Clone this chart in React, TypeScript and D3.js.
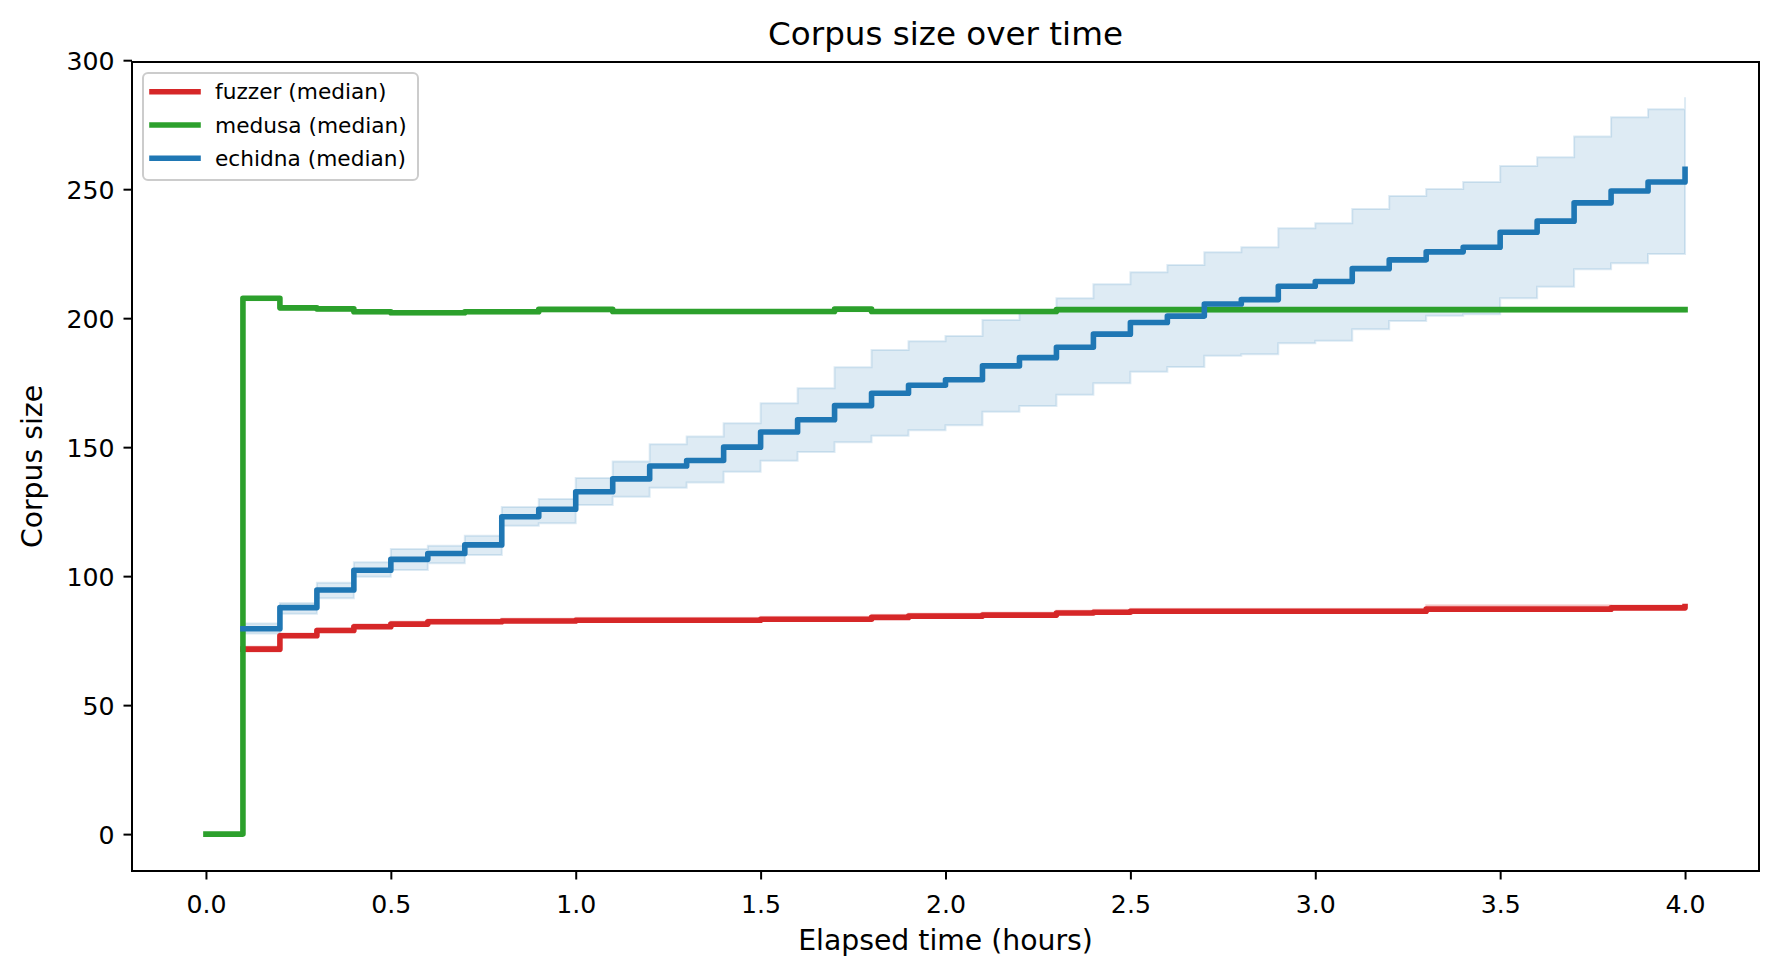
import React, { useEffect, useRef } from 'react';
import * as d3 from 'd3';

// sample times (hours)
const hours = [
  0.0, 0.1, 0.2, 0.3, 0.4, 0.5, 0.6, 0.7, 0.8, 0.9, 1.0,
  1.1, 1.2, 1.3, 1.4, 1.5, 1.6, 1.7, 1.8, 1.9, 2.0,
  2.1, 2.2, 2.3, 2.4, 2.5, 2.6, 2.7, 2.8, 2.9, 3.0,
  3.1, 3.2, 3.3, 3.4, 3.5, 3.6, 3.7, 3.8, 3.9, 4.0,
];

// fuzzer and echidna start at 0.1
const fuzzerMedian = [
  71.7, 76.9, 78.9, 80.4, 81.4, 82.3, 82.3, 82.6, 82.6, 82.9,
  82.9, 82.9, 82.9, 82.9, 83.3, 83.3, 83.3, 84.0, 84.5, 84.5,
  84.9, 84.9, 85.7, 86.0, 86.4, 86.4, 86.4, 86.4, 86.4, 86.4,
  86.4, 86.4, 87.2, 87.2, 87.2, 87.2, 87.2, 87.7, 87.7, 88.2,
];
const fuzzerUpper = [
  72.7, 77.9, 79.9, 81.4, 82.4, 83.3, 83.3, 83.6, 83.6, 83.9,
  83.9, 83.9, 83.9, 83.9, 84.3, 84.3, 84.3, 85.0, 85.5, 85.5,
  85.9, 85.9, 86.7, 87.0, 87.4, 87.4, 87.4, 87.4, 87.4, 87.4,
  87.4, 87.4, 88.8, 88.8, 88.8, 88.8, 88.8, 88.7, 88.7, 89.2,
];
const fuzzerLower = [
  70.7, 76.3, 78.3, 79.8, 80.8, 81.7, 81.7, 82.0, 82.0, 82.3,
  82.3, 82.3, 82.3, 82.3, 82.7, 82.7, 82.7, 83.4, 83.9, 83.9,
  84.3, 84.3, 85.1, 85.4, 85.8, 85.8, 85.8, 85.8, 85.8, 85.8,
  85.8, 85.8, 86.6, 86.6, 86.6, 86.6, 86.6, 87.1, 87.1, 87.6,
];

// medusa starts at 0.0
const medusaMedian = [
  0, 207.7, 204.0, 203.6, 202.5, 202.1, 202.1, 202.5, 202.5, 203.4, 203.4,
  202.6, 202.6, 202.6, 202.6, 202.6, 202.6, 203.5, 202.6, 202.6, 202.6,
  202.6, 202.6, 203.3, 203.3, 203.3, 203.3, 203.3, 203.3, 203.3, 203.3,
  203.3, 203.3, 203.3, 203.3, 203.3, 203.3, 203.3, 203.3, 203.3, 203.3,
];
const medusaUpper = [
  0, 208.1, 204.4, 204.0, 202.9, 202.5, 202.5, 202.9, 203.2, 203.8, 203.8,
  203.0, 203.0, 203.0, 203.0, 203.0, 203.0, 203.9, 203.0, 203.0, 203.0,
  203.0, 203.0, 203.7, 203.7, 203.7, 203.7, 203.7, 203.7, 203.7, 203.7,
  203.7, 203.7, 203.7, 203.7, 203.7, 203.7, 203.7, 203.7, 203.7, 203.7,
];
const medusaLower = [
  0, 206.9, 203.2, 202.8, 201.7, 201.3, 201.3, 201.7, 201.7, 202.6, 202.6,
  201.8, 201.8, 201.8, 201.8, 201.8, 201.8, 202.7, 201.8, 201.8, 201.8,
  201.8, 201.8, 202.5, 202.5, 202.5, 202.5, 202.5, 202.5, 202.5, 202.5,
  202.5, 202.5, 202.5, 202.5, 202.5, 202.5, 202.5, 202.5, 202.5, 202.5,
];

const echidnaMedian = [
  79.6, 87.8, 94.6, 102.3, 106.5, 108.8, 112.1, 123.0, 125.9, 132.7,
  137.7, 142.7, 144.8, 150.0, 155.9, 160.6, 166.1, 170.9, 174.0, 176.1,
  181.5, 184.7, 188.7, 193.8, 198.3, 200.8, 205.5, 207.2, 212.4, 214.2,
  219.2, 222.6, 225.7, 227.5, 233.3, 237.6, 244.7, 249.3, 252.8, 257.7,
];
const echidnaUpper = [
  81.6, 89.6, 97.4, 105.4, 110.5, 111.8, 115.7, 126.8, 129.9, 138.0,
  144.4, 151.1, 154.1, 159.3, 167.0, 172.8, 181.0, 187.7, 191.1, 193.1,
  199.3, 202.3, 207.7, 213.1, 217.8, 220.6, 225.6, 227.5, 234.9, 236.8,
  242.3, 247.4, 250.1, 252.8, 259.0, 262.4, 270.4, 277.9, 281.0, 285.6,
];
const echidnaLower = [
  77.8, 85.4, 91.4, 99.8, 102.4, 105.0, 108.2, 119.5, 120.5, 127.6,
  130.8, 134.3, 136.3, 140.5, 144.7, 148.1, 151.9, 154.4, 156.6, 158.5,
  163.7, 166.0, 170.3, 174.8, 179.2, 181.1, 185.4, 186.0, 190.3, 191.2,
  195.7, 198.9, 200.9, 201.5, 207.7, 212.2, 219.0, 221.3, 224.9, 224.9,
];

const xTicks = [0, 0.5, 1.0, 1.5, 2.0, 2.5, 3.0, 3.5, 4.0];
const yTicks = [0, 50, 100, 150, 200, 250, 300];

interface Series {
  label: string;
  color: string;
  t: number[];
  median: number[];
  lower: number[];
  upper: number[];
}

const series: Series[] = [
  { label: 'fuzzer (median)', color: '#d62728', t: hours.slice(1), median: fuzzerMedian, lower: fuzzerLower, upper: fuzzerUpper },
  { label: 'medusa (median)', color: '#2ca02c', t: hours, median: medusaMedian, lower: medusaLower, upper: medusaUpper },
  { label: 'echidna (median)', color: '#1f77b4', t: hours.slice(1), median: echidnaMedian, lower: echidnaLower, upper: echidnaUpper },
];

const W = 1779;
const H = 978;
const FONT = '"DejaVu Sans", sans-serif';
const LINE_W = 5.6;

const App: React.FC = () => {
  const svgRef = useRef<SVGSVGElement>(null);

  useEffect(() => {
    const root = d3.select(svgRef.current);
    root.selectAll('*').remove();

    const left = 132, right = 1759, top = 62, bottom = 871;

    const x = d3.scaleLinear().domain([-0.2, 4.2]).range([left, right]);
    const y = d3.scaleLinear().domain([-14.3, 299.3]).range([bottom, top]);

    root.append('rect').attr('width', W).attr('height', H).attr('fill', 'white');

    root.append('defs').append('clipPath').attr('id', 'plot-clip')
      .append('rect')
      .attr('x', left).attr('y', top)
      .attr('width', right - left).attr('height', bottom - top);

    const plot = root.append('g').attr('clip-path', 'url(#plot-clip)');

    // bands first (below every line)
    series.forEach(s => {
      const pts = s.t.map((t, i) => ({ t, lo: s.lower[i], hi: s.upper[i] }));
      const area = d3.area<{ t: number; lo: number; hi: number }>()
        .x(d => x(d.t))
        .y0(d => y(d.lo))
        .y1(d => y(d.hi))
        .curve(d3.curveStepAfter);
      plot.append('path')
        .attr('d', area(pts) || '')
        .attr('fill', s.color)
        .attr('fill-opacity', 0.15)
        .attr('stroke', s.color)
        .attr('stroke-opacity', 0.15)
        .attr('stroke-width', 2);
    });

    // median step lines
    series.forEach(s => {
      const pts = s.t.map((t, i) => [t, s.median[i]] as [number, number]);
      const line = d3.line<[number, number]>()
        .x(d => x(d[0]))
        .y(d => y(d[1]))
        .curve(d3.curveStepAfter);
      plot.append('path')
        .attr('d', line(pts) || '')
        .attr('fill', 'none')
        .attr('stroke', s.color)
        .attr('stroke-width', LINE_W)
        .attr('stroke-linecap', 'square')
        .attr('stroke-linejoin', 'round');
    });

    // x axis
    const xAxis = root.append('g')
      .attr('transform', `translate(0,${bottom})`)
      .call(d3.axisBottom(x).tickValues(xTicks).tickFormat(d3.format('.1f')).tickSize(8.5).tickPadding(8.5).tickSizeOuter(0));
    xAxis.select('.domain').remove();
    xAxis.selectAll('line').attr('stroke', 'black').attr('stroke-width', 2);
    xAxis.selectAll('text')
      .attr('y', 42)
      .attr('dy', null)
      .style('font-family', FONT)
      .style('font-size', '25.2px')
      .attr('fill', 'black');

    // y axis
    const yAxis = root.append('g')
      .attr('transform', `translate(${left},0)`)
      .call(d3.axisLeft(y).tickValues(yTicks).tickFormat(d3.format('d')).tickSize(8.5).tickPadding(9).tickSizeOuter(0));
    yAxis.select('.domain').remove();
    yAxis.selectAll('line').attr('stroke', 'black').attr('stroke-width', 2);
    yAxis.selectAll('text')
      .attr('dy', '0.36em')
      .style('font-family', FONT)
      .style('font-size', '25.2px')
      .attr('fill', 'black');

    // spines
    root.append('rect')
      .attr('x', left).attr('y', top)
      .attr('width', right - left).attr('height', bottom - top)
      .attr('fill', 'none')
      .attr('stroke', 'black')
      .attr('stroke-width', 2);

    // title and axis labels
    root.append('text')
      .attr('x', (left + right) / 2)
      .attr('y', 45)
      .attr('text-anchor', 'middle')
      .style('font-family', FONT)
      .style('font-size', '32.6px')
      .text('Corpus size over time');

    root.append('text')
      .attr('x', (left + right) / 2)
      .attr('y', 950)
      .attr('text-anchor', 'middle')
      .style('font-family', FONT)
      .style('font-size', '28.3px')
      .text('Elapsed time (hours)');

    root.append('text')
      .attr('transform', `translate(42,${(top + bottom) / 2}) rotate(-90)`)
      .attr('text-anchor', 'middle')
      .style('font-family', FONT)
      .style('font-size', '28.3px')
      .text('Corpus size');

    // legend
    const legend = root.append('g');
    legend.append('rect')
      .attr('x', 143).attr('y', 73)
      .attr('width', 275).attr('height', 107)
      .attr('rx', 5)
      .attr('fill', 'white')
      .attr('fill-opacity', 0.8)
      .attr('stroke', '#cccccc')
      .attr('stroke-width', 2);

    series.forEach((s, i) => {
      const rowY = 91.7 + i * 33.3;
      legend.append('line')
        .attr('x1', 152).attr('x2', 198)
        .attr('y1', rowY).attr('y2', rowY)
        .attr('stroke', s.color)
        .attr('stroke-width', LINE_W)
        .attr('stroke-linecap', 'square');
      legend.append('text')
        .attr('x', 215)
        .attr('y', rowY)
        .attr('dy', '0.35em')
        .style('font-family', FONT)
        .style('font-size', '21.7px')
        .text(s.label);
    });
  }, []);

  return (
    <svg
      ref={svgRef}
      width={W}
      height={H}
      style={{ position: 'absolute', left: 0, top: 0, display: 'block' }}
    />
  );
};

export default App;
